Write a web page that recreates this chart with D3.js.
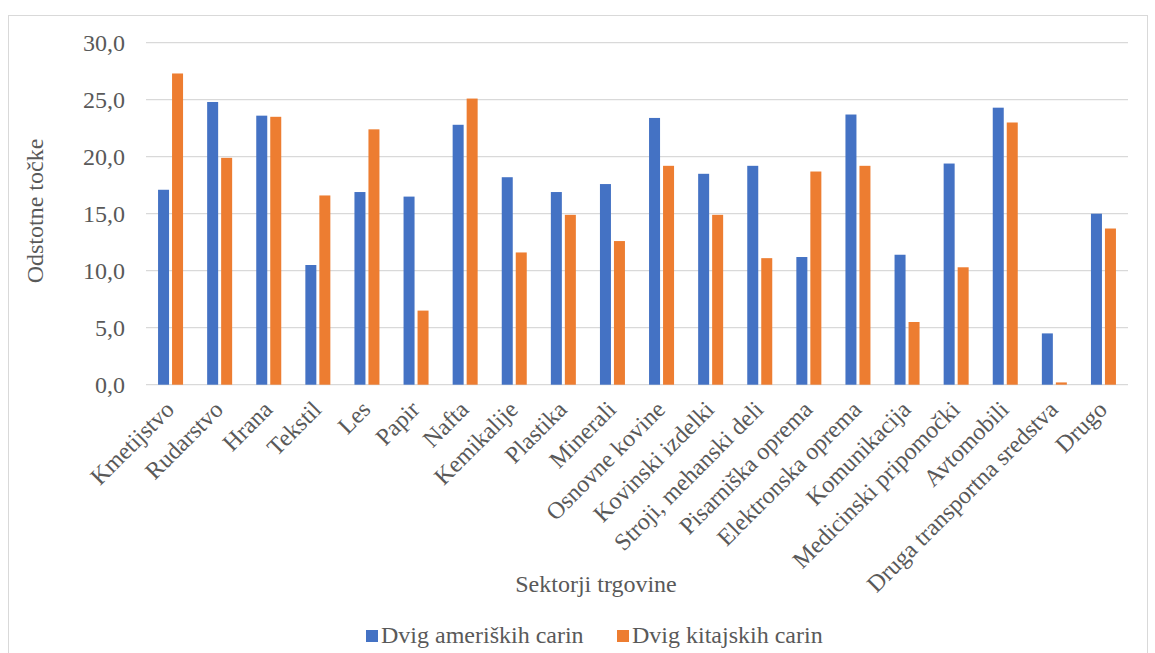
<!DOCTYPE html>
<html>
<head>
<meta charset="utf-8">
<script src="https://cdn.jsdelivr.net/npm/d3@7"></script>
<style>
  body { margin: 0; background: #fff; }
  text { font-family: "Liberation Serif", "Times New Roman", serif; fill: #595959; }
</style>
</head>
<body>
<svg id="svg" width="1155" height="653"></svg>
<script>
var categories = ["Kmetijstvo", "Rudarstvo", "Hrana", "Tekstil", "Les", "Papir", "Nafta",
  "Kemikalije", "Plastika", "Minerali", "Osnovne kovine", "Kovinski izdelki",
  "Stroji, mehanski deli", "Pisarniška oprema", "Elektronska oprema", "Komunikacija",
  "Medicinski pripomočki", "Avtomobili", "Druga transportna sredstva", "Drugo"];
var usTariffs = [17.1, 24.8, 23.6, 10.5, 16.9, 16.5, 22.8, 18.2, 16.9, 17.6,
  23.4, 18.5, 19.2, 11.2, 23.7, 11.4, 19.4, 24.3, 4.5, 15.0];
var cnTariffs = [27.3, 19.9, 23.5, 16.6, 22.4, 6.5, 25.1, 11.6, 14.9, 12.6,
  19.2, 14.9, 11.1, 18.7, 19.2, 5.5, 10.3, 23.0, 0.2, 13.7];
var seriesNames = ["Dvig ameriških carin", "Dvig kitajskih carin"];
var colors = ["#4472c4", "#ed7d31"];
var yTicks = [0, 5, 10, 15, 20, 25, 30];

(function() {
  'use strict';

  var svg = d3.select("#svg");

  // chart frame
  svg.append("rect")
    .attr("x", 8.5).attr("y", 15.5)
    .attr("width", 1139).attr("height", 660)
    .attr("fill", "none").attr("stroke", "#d9d9d9");

  var left = 146, right = 1128, top = 42.7, bottom = 384.7;

  var x = d3.scaleBand().domain(categories).range([left, right]);
  var y = d3.scaleLinear().domain([0, 30]).range([bottom, top]);
  var fmt = function(d) { return d3.format(".1f")(d).replace(".", ","); };

  // gridlines
  svg.append("g").selectAll("line")
    .data(yTicks)
    .join("line")
    .attr("x1", left).attr("x2", right)
    .attr("y1", function(d) { return y(d); })
    .attr("y2", function(d) { return y(d); })
    .attr("stroke", "#d9d9d9")
    .attr("stroke-width", 1.3);

  // y tick labels
  svg.append("g").selectAll("text")
    .data(yTicks)
    .join("text")
    .attr("x", 125)
    .attr("y", function(d) { return y(d); })
    .attr("dy", "0.35em")
    .attr("text-anchor", "end")
    .style("font-size", "24px")
    .text(fmt);

  // bars
  var series = [usTariffs, cnTariffs];
  var barW = 11, gap = 3;
  series.forEach(function(vals, si) {
    svg.append("g").selectAll("rect")
      .data(vals)
      .join("rect")
      .attr("x", function(d, i) {
        var c = x(categories[i]) + x.bandwidth() / 2;
        return si === 0 ? c - gap / 2 - barW : c + gap / 2;
      })
      .attr("y", function(d) { return y(d); })
      .attr("width", barW)
      .attr("height", function(d) { return y(0) - y(d); })
      .attr("fill", colors[si]);
  });

  // x labels
  svg.append("g").selectAll("text")
    .data(categories)
    .join("text")
    .attr("transform", function(d) {
      return "translate(" + (x(d) + x.bandwidth() / 2 - 1) + ",405) rotate(-45)";
    })
    .attr("text-anchor", "end")
    .attr("dy", "0.35em")
    .style("font-size", "24px")
    .text(function(d) { return d; });

  // axis titles
  svg.append("text")
    .attr("transform", "translate(43,211) rotate(-90)")
    .attr("text-anchor", "middle")
    .style("font-size", "24px")
    .text("Odstotne točke");

  svg.append("text")
    .attr("x", 596).attr("y", 592)
    .attr("text-anchor", "middle")
    .style("font-size", "24px")
    .text("Sektorji trgovine");

  // legend
  var legendX = [366, 617];
  var legend = svg.append("g").selectAll("g")
    .data(seriesNames)
    .join("g")
    .attr("transform", function(d, i) { return "translate(" + legendX[i] + ",636)"; });
  legend.append("rect")
    .attr("x", 0).attr("y", -6)
    .attr("width", 12).attr("height", 12)
    .attr("fill", function(d, i) { return colors[i]; });
  legend.append("text")
    .attr("x", 15).attr("y", 7)
    .style("font-size", "24px")
    .text(function(d) { return d; });
}());
</script>
</body>
</html>
